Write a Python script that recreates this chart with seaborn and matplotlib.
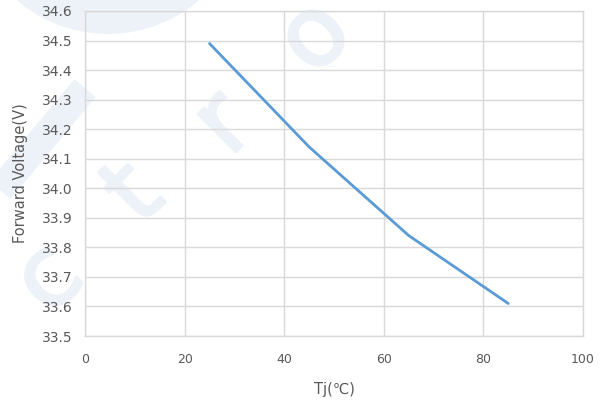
import matplotlib
matplotlib.use("Agg")
import matplotlib.pyplot as plt
import matplotlib.patheffects as pe
import seaborn as sns
import pandas as pd
from matplotlib.patches import Ellipse
from matplotlib.lines import Line2D

# Junction temperature (°C) and measured forward voltage (V)
tj = [25, 45, 65, 85]
vf = [34.49, 34.14, 33.84, 33.61]

x_ticks = [0, 20, 40, 60, 80, 100]
y_ticks = [33.5, 33.6, 33.7, 33.8, 33.9, 34.0, 34.1, 34.2, 34.3, 34.4, 34.5, 34.6]

sns.set_theme(style="white")
plt.rcParams["font.family"] = ["DejaVu Sans"]

W, H = 612, 404
fig = plt.figure(figsize=(W / 100, H / 100), dpi=100)
ax = fig.add_axes([85 / W, 1 - 336 / H, 498 / W, 325 / H])

# faint background logo
wm = "#edf2f9"
r = 140
fig.patches.append(Ellipse((108 / W, 1 + 106 / H), 2 * r / W, 2 * r / H, transform=fig.transFigure,
                           facecolor=wm, edgecolor="none", zorder=-5))
fig.lines.append(Line2D([0 / W, 85 / W], [1 - 190 / H, 1 - 88 / H], transform=fig.transFigure,
                        color=wm, linewidth=20, solid_capstyle="butt", zorder=-5))
for ch, (px, py) in zip("ctro", [(50, 280), (135, 195), (225, 125), (316, 38)]):
    fig.text(px / W, 1 - py / H, ch, color=wm, fontsize=70, rotation=45,
             ha="center", va="center", zorder=-5,
             path_effects=[pe.withStroke(linewidth=2, foreground=wm)])

df = pd.DataFrame({"Tj": tj, "Vf": vf})
sns.lineplot(data=df, x="Tj", y="Vf", ax=ax, color="#5b9bd5", linewidth=2.0)
ax.patch.set_alpha(0)

ax.set_xlim(0, 100)
ax.set_ylim(33.5, 34.6)
ax.set_xticks(x_ticks)
ax.set_yticks(y_ticks)
ax.set_xticklabels([str(v) for v in x_ticks])
ax.set_yticklabels([f"{v:.1f}" for v in y_ticks])
ax.grid(True, color="#d9d9d9", linewidth=1.0)
for s in ax.spines.values():
    s.set_color("#d9d9d9")
    s.set_linewidth(1.0)
ax.tick_params(axis="both", length=0, colors="#595959")
ax.tick_params(axis="y", labelsize=10, pad=9)
ax.tick_params(axis="x", labelsize=9, pad=12)

ax.set_xlabel("Tj(℃)", fontsize=10.5, color="#595959", labelpad=12)
ax.set_ylabel("Forward Voltage(V)", fontsize=10.5, color="#595959", labelpad=10)

fig.savefig("out.png", dpi=100)
